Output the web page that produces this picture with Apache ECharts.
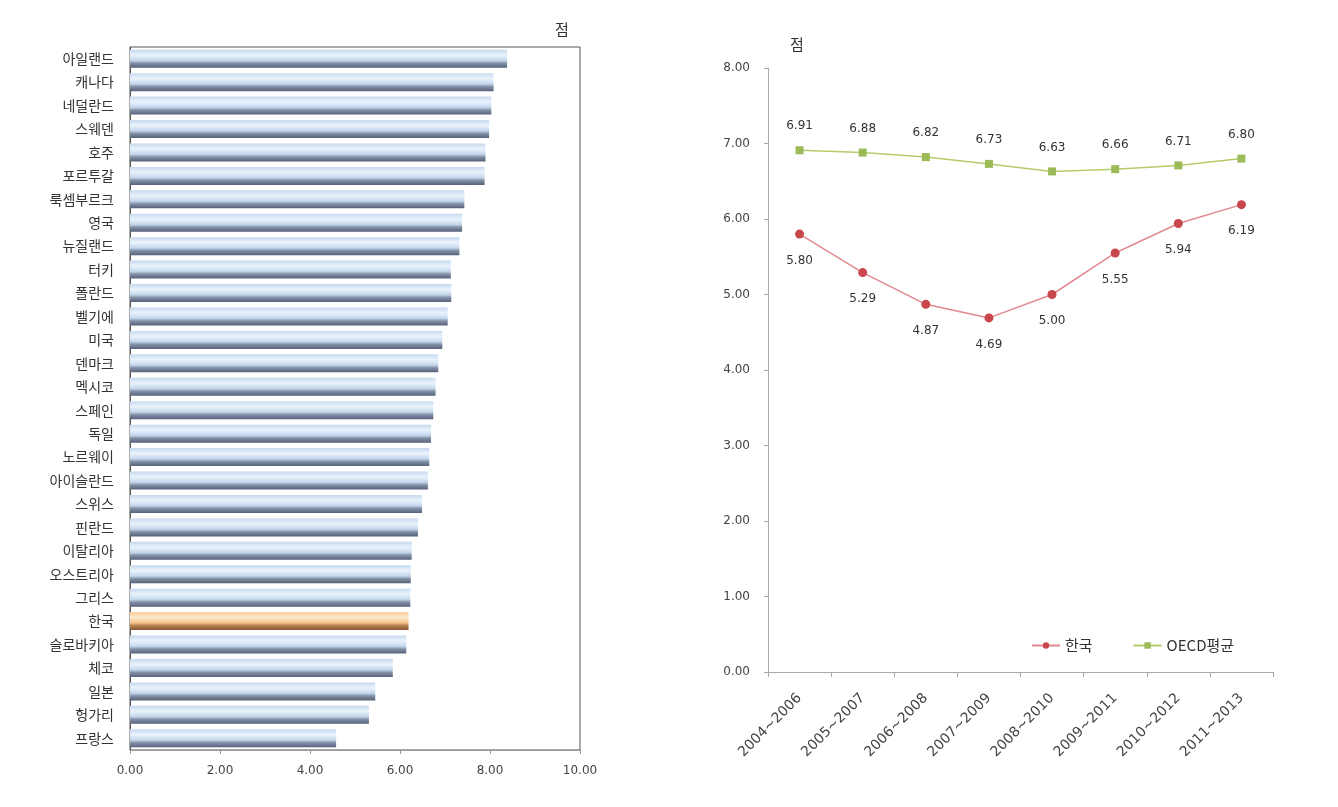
<!DOCTYPE html>
<html><head><meta charset="utf-8">
<script src="https://cdn.jsdelivr.net/npm/echarts@6/dist/echarts.min.js"></script>
<style>html,body{margin:0;padding:0;background:#fff}#c{width:1338px;height:807px}</style>
</head><body><div id="c"></div>
<script>
const countries = ['아일랜드','캐나다','네덜란드','스웨덴','호주','포르투갈','룩셈부르크','영국','뉴질랜드','터키','폴란드','벨기에','미국','덴마크','멕시코','스페인','독일','노르웨이','아이슬란드','스위스','핀란드','이탈리아','오스트리아','그리스','한국','슬로바키아','체코','일본','헝가리','프랑스'];
const countryScores = [8.38,8.08,8.03,7.98,7.90,7.88,7.43,7.38,7.32,7.13,7.14,7.06,6.94,6.85,6.79,6.74,6.69,6.65,6.62,6.49,6.40,6.26,6.24,6.23,6.19,6.14,5.84,5.45,5.31,4.58];
const periods = ['2004~2006','2005~2007','2006~2008','2007~2009','2008~2010','2009~2011','2010~2012','2011~2013'];
const koreaTrend = [5.80,5.29,4.87,4.69,5.00,5.55,5.94,6.19];
const oecdTrend = [6.91,6.88,6.82,6.73,6.63,6.66,6.71,6.80];
const highlight = '한국';

const font = '"Noto Sans CJK KR", "Noto Sans", sans-serif';
const numFont = '"DejaVu Sans", sans-serif';
const blueGrad = new echarts.graphic.LinearGradient(0,0,0,1,[
  {offset:0,color:'#c6d9ef'},{offset:0.3,color:'#eaf3fc'},{offset:0.6,color:'#c3d6ec'},
  {offset:0.75,color:'#8391a6'},{offset:1,color:'#56617a'}]);
const orangeGrad = new echarts.graphic.LinearGradient(0,0,0,1,[
  {offset:0,color:'#f9cf9a'},{offset:0.3,color:'#fde8cc'},{offset:0.6,color:'#f5c18a'},
  {offset:0.75,color:'#b58050'},{offset:1,color:'#8a5a34'}]);

const barData = countryScores.map((v,i)=>({value:v,itemStyle:{color: countries[i]===highlight ? orangeGrad : blueGrad}}));

const chart = echarts.init(document.getElementById('c'));
chart.setOption({
  animation:false,
  textStyle:{fontFamily:font},
  grid:[
    {left:130,top:47,width:450,height:703,show:true,borderColor:'#555',borderWidth:1,backgroundColor:'transparent'},
    {left:768,top:68,width:505,height:604}
  ],
  legend:{
    data:['한국','OECD평균'], left:1026, top:633, itemWidth:28, itemHeight:8, itemGap:40,
    textStyle:{fontSize:15,color:'#333',fontFamily:font}
  },
  graphic:[
    {type:'text',left:555,top:22,style:{text:'점',fontSize:15,fill:'#333',fontFamily:font}},
    {type:'text',left:790,top:37,style:{text:'점',fontSize:15,fill:'#333',fontFamily:font}}
  ],
  xAxis:[
    {gridIndex:0,type:'value',min:0,max:10,interval:2,
      axisLine:{show:true,lineStyle:{color:'#999'}},axisTick:{show:true,length:4,lineStyle:{color:'#999'}},
      splitLine:{show:false},
      axisLabel:{formatter:v=>v.toFixed(2),fontSize:12,color:'#444',margin:15,fontFamily:numFont}},
    {gridIndex:1,type:'category',data:periods,boundaryGap:true,
      axisLine:{show:true,lineStyle:{color:'#aaa'}},axisTick:{show:true,alignWithLabel:false,length:5,lineStyle:{color:'#aaa'}},
      axisLabel:{rotate:45,fontSize:14,color:'#444',margin:24,interval:0,fontFamily:numFont}}
  ],
  yAxis:[
    {gridIndex:0,type:'category',data:countries,inverse:true,
      axisLine:{show:true,lineStyle:{color:'#555'}},axisTick:{show:false},
      axisLabel:{fontSize:14,color:'#333',margin:16,interval:0}},
    {gridIndex:1,type:'value',min:0,max:8,interval:1,
      axisLine:{show:true,lineStyle:{color:'#aaa'}},axisTick:{show:true,length:4,lineStyle:{color:'#aaa'}},
      splitLine:{show:false},
      axisLabel:{formatter:v=>v.toFixed(2),fontSize:12,color:'#444',margin:18,fontFamily:numFont}}
  ],
  series:[
    {type:'bar',xAxisIndex:0,yAxisIndex:0,data:barData,barWidth:18},
    {name:'한국',type:'line',xAxisIndex:1,yAxisIndex:1,data:koreaTrend,
      symbol:'circle',symbolSize:9,
      itemStyle:{color:'#c8464c'},lineStyle:{color:'#e08a90',width:1.5},
      label:{show:true,position:'bottom',distance:16,formatter:p=>p.value.toFixed(2),fontSize:12,color:'#333',fontFamily:numFont}},
    {name:'OECD평균',type:'line',xAxisIndex:1,yAxisIndex:1,data:oecdTrend,
      symbol:'rect',symbolSize:8,
      itemStyle:{color:'#9bbb59'},lineStyle:{color:'#b3cc6a',width:1.5},
      label:{show:true,position:'top',distance:14,formatter:p=>p.value.toFixed(2),fontSize:12,color:'#333',fontFamily:numFont}}
  ]
});
</script></body></html>
